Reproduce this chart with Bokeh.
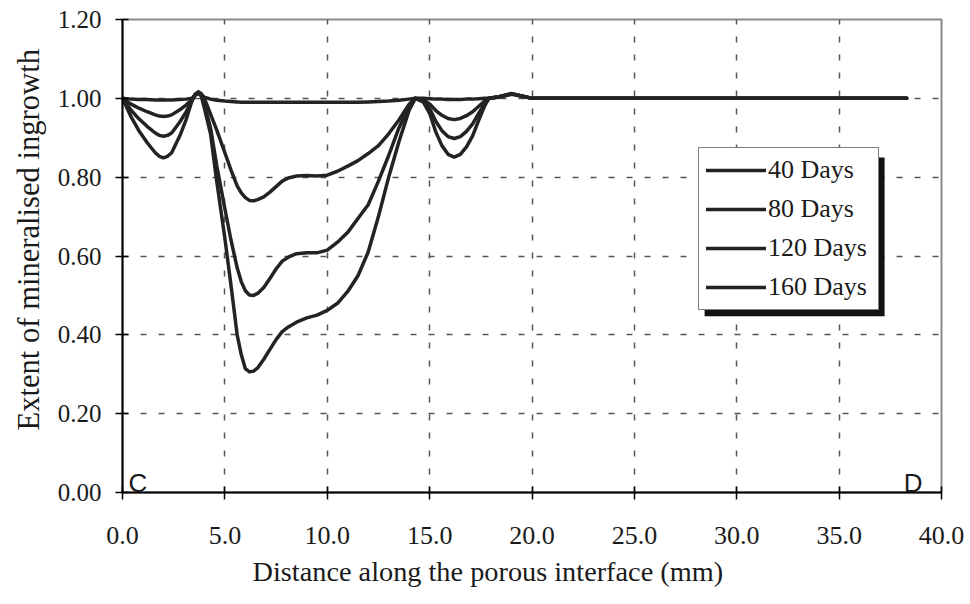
from bokeh.plotting import figure
from bokeh.models import (Range1d, FixedTicker, NumeralTickFormatter, Legend, LegendItem,
                          BoxAnnotation, Label, Title)
from bokeh.embed import file_html
from bokeh.resources import INLINE

# ---------------- data ----------------
distance = [0.0, 0.4, 0.8, 1.2, 1.6, 1.8, 2.0, 2.2, 2.4, 2.8, 3.1, 3.4,
            3.55, 3.7, 3.85, 4.0,
            4.3, 4.6, 5.0, 5.3,
            5.6, 5.8, 6.0, 6.2, 6.4, 6.6,
            6.9, 7.2, 7.5, 7.8, 8.1,
            8.5, 9.0, 9.5, 10.0, 10.5, 11.0, 11.5, 12.0, 12.5, 13.0, 13.5, 14.0, 14.3,
            14.7, 15.0, 15.3, 15.6, 15.9, 16.2, 16.5, 16.8, 17.1, 17.4, 17.7, 17.9,
            18.4, 19.0, 19.6, 20.0, 38.3]

days_40 = [1.0, 0.998, 0.997, 0.997, 0.996, 0.996, 0.996, 0.996, 0.996, 0.997, 0.998, 1.0,
           1.008, 1.012, 1.008, 1.003,
           0.998, 0.995, 0.993, 0.992,
           0.991, 0.99, 0.99, 0.99, 0.99, 0.99,
           0.99, 0.99, 0.99, 0.99, 0.99,
           0.99, 0.99, 0.99, 0.99, 0.99, 0.99, 0.99, 0.991, 0.992, 0.993, 0.995, 0.998, 1.0,
           1.0, 0.999, 0.998, 0.998, 0.997, 0.997, 0.997, 0.998, 0.998, 0.999, 1.0, 1.0,
           1.003, 1.01, 1.004, 1.0, 1.0]

days_80 = [1.0, 0.986, 0.975, 0.966, 0.958, 0.955, 0.954, 0.955, 0.958, 0.971, 0.983, 0.997,
           1.01, 1.016, 1.012, 1.0,
           0.96, 0.92, 0.862, 0.818,
           0.778, 0.76, 0.748, 0.741, 0.74, 0.743,
           0.75, 0.762, 0.776, 0.79, 0.798,
           0.803, 0.804, 0.803, 0.805, 0.815, 0.828, 0.842, 0.86, 0.88, 0.91, 0.945, 0.985, 1.0,
           0.996, 0.986, 0.969, 0.957, 0.949, 0.946, 0.949, 0.956, 0.966, 0.98, 0.994, 1.0,
           1.004, 1.012, 1.005, 1.0, 1.0]

days_120 = [1.0, 0.971, 0.948, 0.929, 0.912, 0.906, 0.904, 0.906, 0.912, 0.94, 0.965, 0.994,
            1.01, 1.016, 1.008, 0.985,
            0.925, 0.83, 0.72, 0.64,
            0.57, 0.535, 0.512, 0.501, 0.50, 0.505,
            0.52, 0.543, 0.567, 0.587, 0.597,
            0.606, 0.608, 0.608, 0.615, 0.635, 0.66, 0.695, 0.73, 0.79, 0.855, 0.925, 0.98, 1.0,
            0.993, 0.974, 0.942, 0.918, 0.903, 0.898, 0.903, 0.916, 0.935, 0.962, 0.988, 1.0,
            1.004, 1.012, 1.005, 1.0, 1.0]

days_160 = [1.0, 0.955, 0.918, 0.888, 0.862, 0.853, 0.849, 0.853, 0.862, 0.905, 0.945, 0.995,
            1.01, 1.016, 1.005, 0.975,
            0.91, 0.79, 0.645, 0.525,
            0.40, 0.35, 0.314, 0.306, 0.308, 0.316,
            0.338, 0.363, 0.388, 0.408, 0.42,
            0.432, 0.443, 0.45, 0.462, 0.48, 0.51, 0.55, 0.61, 0.70, 0.80, 0.89, 0.97, 1.0,
            0.99, 0.962, 0.915, 0.88, 0.858, 0.851, 0.858, 0.877, 0.905, 0.945, 0.982, 1.0,
            1.004, 1.012, 1.005, 1.0, 1.0]

series_names = ["40 Days", "80 Days", "120 Days", "160 Days"]
series_values = [days_40, days_80, days_120, days_160]

x_ticks = [0, 5, 10, 15, 20, 25, 30, 35, 40]
y_ticks = [0.0, 0.2, 0.4, 0.6, 0.8, 1.0, 1.2]

x_title = "Distance along the porous interface (mm)"
y_title = "Extent of mineralised ingrowth"

SERIF = "Liberation Serif"
SANS = "Liberation Sans"
LINE_COLOR = "#232323"
TEXT_COLOR = "#1a1a1a"

# ---------------- figure ----------------
p = figure(width=970, height=604, output_backend="svg", toolbar_location=None,
           x_range=Range1d(0, 40), y_range=Range1d(0, 1.2),
           min_border_left=122, min_border_right=29, min_border_top=19, min_border_bottom=112)
p.background_fill_color = "white"
p.border_fill_color = "white"
p.outline_line_color = "#8a8a8a"
p.outline_line_width = 2

for ax in (p.xaxis[0], p.yaxis[0]):
    ax.axis_line_color = "black"
    ax.axis_line_width = 2
    ax.major_tick_line_color = "black"
    ax.major_tick_line_width = 1.5
    ax.major_tick_in = 6
    ax.major_tick_out = 7
    ax.minor_tick_line_color = None
    ax.major_label_text_font = SERIF
    ax.major_label_text_color = TEXT_COLOR

p.xaxis.ticker = FixedTicker(ticks=x_ticks)
p.yaxis.ticker = FixedTicker(ticks=y_ticks)
p.xaxis.formatter = NumeralTickFormatter(format="0.0")
p.yaxis.formatter = NumeralTickFormatter(format="0.00")
p.xaxis.major_label_text_font_size = "26px"
p.yaxis.major_label_text_font_size = "25px"
p.xaxis.major_label_standoff = 27
p.yaxis.major_label_standoff = 14

for g in (p.xgrid[0], p.ygrid[0]):
    g.grid_line_color = "#555555"
    g.grid_line_width = 1.5
    g.grid_line_dash = "6 12"

# shadow of the legend box (drawn before the legend)
p.add_layout(BoxAnnotation(left=28.43, right=37.22, top=0.850, bottom=0.447,
                           fill_color="#111111", fill_alpha=1.0, line_color=None,
                           level="annotation"))

renderers = []
for name, vals in zip(series_names, series_values):
    r = p.line(distance, vals, line_color=LINE_COLOR, line_width=3.5,
               line_join="round", line_cap="round")
    renderers.append((name, r))

legend = Legend(items=[LegendItem(label=n, renderers=[r]) for n, r in renderers],
                location=(576, 182), orientation="vertical",
                label_text_font=SERIF, label_text_font_size="26px", label_text_color=TEXT_COLOR,
                glyph_width=60, glyph_height=28, label_height=28, label_width=103,
                label_standoff=2, spacing=9, padding=7, margin=0,
                border_line_color="black", border_line_width=1.5,
                background_fill_color="white", background_fill_alpha=1.0)
p.add_layout(legend)

# corner letters
p.add_layout(Label(x=0.29, y=0.025, text="C", text_font=SANS, text_font_size="26px",
                   text_color=TEXT_COLOR, text_align="left", text_baseline="alphabetic"))
p.add_layout(Label(x=39.07, y=0.025, text="D", text_font=SANS, text_font_size="26px",
                   text_color=TEXT_COLOR, text_align="right", text_baseline="alphabetic"))

# axis titles
p.add_layout(Title(text=x_title, align="left", offset=130, text_font=SERIF,
                   text_font_size="28.3px", text_font_style="normal", text_color=TEXT_COLOR,
                   standoff=14), "below")
p.add_layout(Title(text=y_title, align="left", offset=62, text_font=SERIF,
                   text_font_size="30.6px", text_font_style="normal", text_color=TEXT_COLOR,
                   standoff=18), "left")

open("out.html", "w").write(file_html(p, INLINE))
